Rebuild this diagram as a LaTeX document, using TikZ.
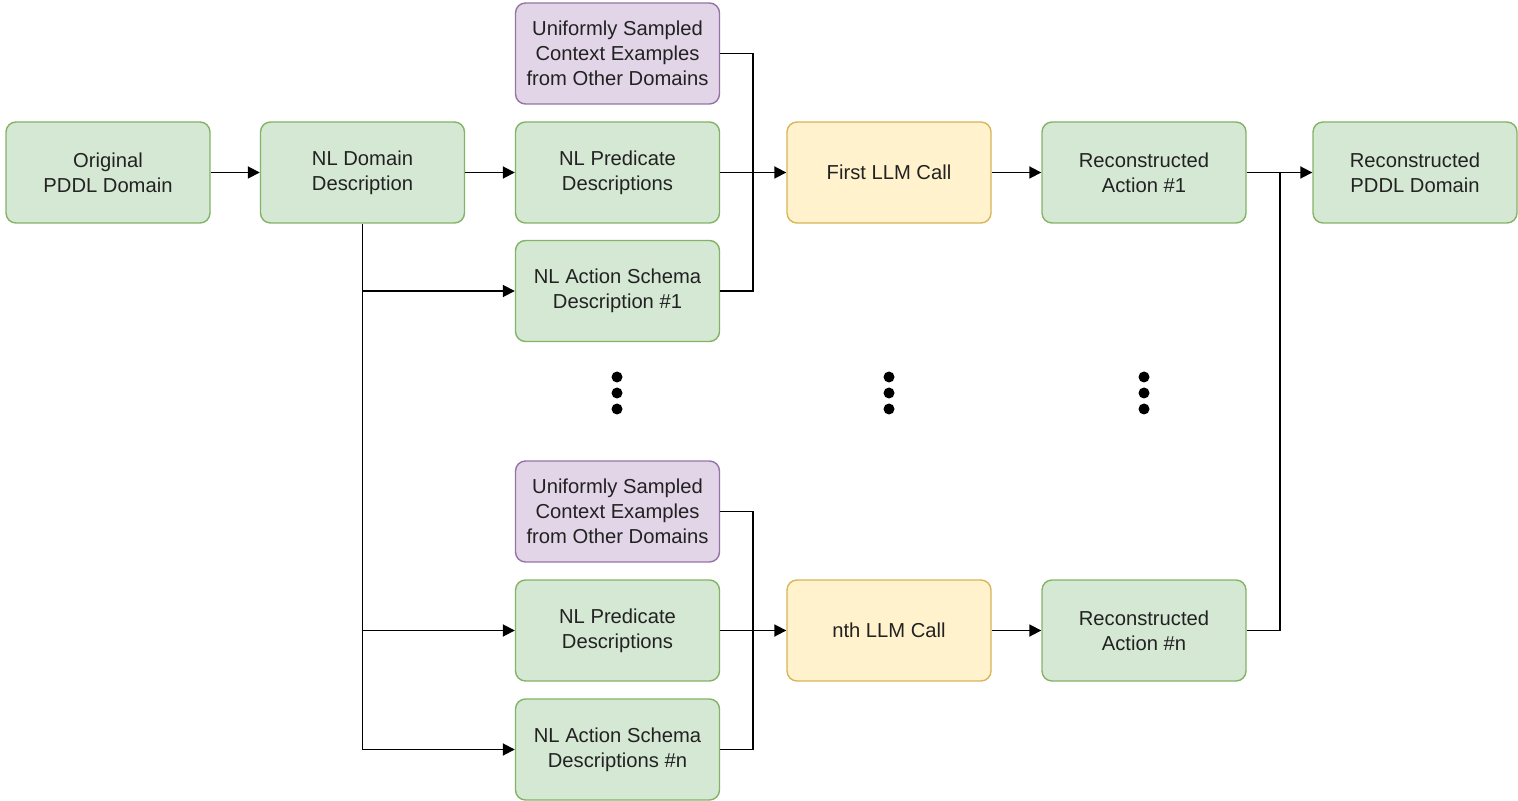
\documentclass[tikz,border=0pt]{standalone}
\usepackage{fontspec}
\setmainfont{Liberation Sans}
\usetikzlibrary{arrows.meta}
\definecolor{gfill}{HTML}{D5E8D4}
\definecolor{gdraw}{HTML}{82B366}
\definecolor{pfill}{HTML}{E1D5E7}
\definecolor{pdraw}{HTML}{9673A6}
\definecolor{yfill}{HTML}{FFF2CC}
\definecolor{ydraw}{HTML}{D6B656}
\definecolor{txt}{HTML}{222222}
\tikzset{
  box/.style={draw, line width=0.7pt, rounded corners=5pt, minimum width=102pt, minimum height=50.5pt, align=center, font=\fontsize{10.1}{12.4}\selectfont, text=txt, inner sep=0pt},
  gbox/.style={box, fill=gfill, draw=gdraw},
  pbox/.style={box, fill=pfill, draw=pdraw},
  ybox/.style={box, fill=yfill, draw=ydraw},
  conn/.style={line width=0.9pt, draw=black},
  arr/.style={conn, -{Triangle[length=6pt,width=6pt]}},
  dot/.style={circle, fill=black, inner sep=0pt, minimum size=5.5pt}
}
\begin{document}
\begin{tikzpicture}[x=0.5pt,y=-0.5pt]
\useasboundingbox (0,0) rectangle (1518,801);
\node[gbox] (orig) at (108,172.5) {Original\\PDDL Domain};
\node[gbox] (dom) at (362.5,172.5) {NL Domain\\Description};
\node[pbox] (ctx1) at (617.5,53.5) {Uniformly Sampled\\Context Examples\\from Other Domains};
\node[gbox] (pred1) at (617.5,172.5) {NL Predicate\\Descriptions};
\node[gbox] (act1) at (617.5,291) {NL Action Schema\\Description \#1};
\node[ybox] (llm1) at (889,172.5) {First LLM Call};
\node[gbox] (rec1) at (1144,172.5) {Reconstructed\\Action \#1};
\node[gbox] (recd) at (1415,172.5) {Reconstructed\\PDDL Domain};
\node[pbox] (ctxn) at (617.5,511.5) {Uniformly Sampled\\Context Examples\\from Other Domains};
\node[gbox] (predn) at (617.5,630.5) {NL Predicate\\Descriptions};
\node[gbox] (actn) at (617.5,749.5) {NL Action Schema\\Descriptions \#n};
\node[ybox] (llmn) at (889,630.5) {nth LLM Call};
\node[gbox] (recn) at (1144,630.5) {Reconstructed\\Action \#n};
\foreach \x/\n in {617/a,889/b,1144/c}{
  \node[dot] (d1\n) at (\x,377) {};
  \node[dot] (d2\n) at (\x,393) {};
  \node[dot] (d3\n) at (\x,409) {};
}
\coordinate (j1) at (753,172.5);
\coordinate (jn) at (753,630.5);
\coordinate (jr) at (1280,172.5);
\coordinate (jb) at (362.5,749.5);
\draw[arr] (orig) -- (dom);
\draw[arr] (dom) -- (pred1);
\draw[arr] (pred1) -- (llm1);
\draw[conn] (ctx1.east) -| (j1);
\draw[conn] (act1.east) -| (j1);
\draw[arr] (llm1) -- (rec1);
\draw[arr] (rec1) -- (recd);
\draw[conn] (recn.east) -| (jr);
\draw[conn] (dom.south) -- (jb);
\draw[arr] (dom.south |- act1) -- (act1.west);
\draw[arr] (dom.south |- predn) -- (predn.west);
\draw[arr] (jb) -- (actn.west);
\draw[arr] (predn) -- (llmn);
\draw[conn] (ctxn.east) -| (jn);
\draw[conn] (actn.east) -| (jn);
\draw[arr] (llmn) -- (recn);
\end{tikzpicture}
\end{document}
